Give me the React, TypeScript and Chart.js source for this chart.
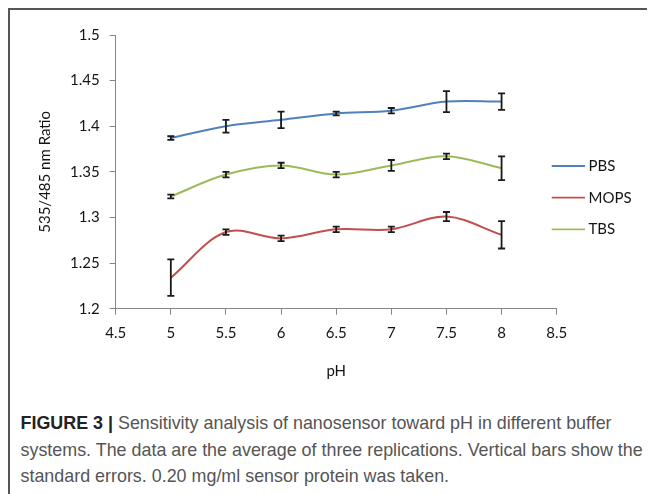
import React, { useEffect, useRef } from "react";
import { Chart, registerables } from "chart.js";
Chart.register(...registerables);

const phValues = [5, 5.5, 6, 6.5, 7, 7.5, 8];
const seriesNames = ["PBS", "MOPS", "TBS"];
const pbsValues = [1.387, 1.4, 1.407, 1.414, 1.417, 1.427, 1.427];
const pbsErrors = [0.002, 0.007, 0.009, 0.002, 0.003, 0.0115, 0.009];
const mopsValues = [1.234, 1.284, 1.277, 1.287, 1.287, 1.301, 1.281];
const mopsErrors = [0.02, 0.003, 0.003, 0.003, 0.003, 0.005, 0.015];
const tbsValues = [1.323, 1.347, 1.357, 1.347, 1.357, 1.367, 1.354];
const tbsErrors = [0.002, 0.003, 0.003, 0.003, 0.006, 0.003, 0.013];
const seriesColors = ["#4F81BD", "#C0504D", "#9BBB59"];

const xMin = 4.5;
const xMax = 8.5;
const xStep = 0.5;
const yMin = 1.2;
const yMax = 1.5;
const yStep = 0.05;

const tickFont = { family: "Lato", size: 15 };
const textColor = "#141414";
const axisColor = "#868686";

const errorBarPlugin = {
  id: "errorBars",
  afterDatasetsDraw(chart: any) {
    const { ctx } = chart;
    const xs = chart.scales.x;
    const ys = chart.scales.y;
    ctx.save();
    ctx.strokeStyle = "#1a1a1a";
    ctx.lineWidth = 1.8;
    chart.data.datasets.forEach((ds: any) => {
      ds.data.forEach((pt: any, j: number) => {
        const e = ds.errors[j];
        const px = xs.getPixelForValue(pt.x);
        const top = ys.getPixelForValue(pt.y + e);
        const bot = ys.getPixelForValue(pt.y - e);
        const cap = 3.5;
        ctx.beginPath();
        ctx.moveTo(px, top);
        ctx.lineTo(px, bot);
        ctx.moveTo(px - cap, top);
        ctx.lineTo(px + cap, top);
        ctx.moveTo(px - cap, bot);
        ctx.lineTo(px + cap, bot);
        ctx.stroke();
      });
    });
    ctx.restore();
  },
};

const legendPlugin = {
  id: "customLegend",
  afterDraw(chart: any) {
    const { ctx } = chart;
    const rows = [158, 189.7, 221.3];
    ctx.save();
    chart.data.datasets.forEach((ds: any, i: number) => {
      const y = rows[i];
      ctx.strokeStyle = ds.borderColor;
      ctx.lineWidth = 1.8;
      ctx.beginPath();
      ctx.moveTo(543.7, y);
      ctx.lineTo(577, y);
      ctx.stroke();
      ctx.fillStyle = textColor;
      ctx.font = `${tickFont.size}px ${tickFont.family}`;
      ctx.textBaseline = "middle";
      ctx.textAlign = "left";
      ctx.fillText(ds.label, 580.5, y);
    });
    ctx.restore();
  },
};

function fmt(v: number) {
  return String(Math.round(v * 100) / 100);
}

export default function App() {
  const ref = useRef<HTMLCanvasElement | null>(null);
  useEffect(() => {
    document.documentElement.style.overflow = "hidden";
    if (!ref.current) return;
    const values = [pbsValues, mopsValues, tbsValues];
    const errors = [pbsErrors, mopsErrors, tbsErrors];
    const chart = new Chart(ref.current, {
      type: "line",
      data: {
        datasets: seriesNames.map((name, i) => ({
          label: name,
          data: phValues.map((x, j) => ({ x, y: values[i][j] })),
          errors: errors[i],
          borderColor: seriesColors[i],
          backgroundColor: seriesColors[i],
          borderWidth: 2,
          pointRadius: 0,
          tension: 0.35,
          fill: false,
        })) as any,
      },
      options: {
        animation: false,
        responsive: false,
        layout: { padding: { left: 28, top: 27, right: 98.3, bottom: 10 } },
        plugins: { legend: { display: false }, tooltip: { enabled: false } },
        scales: {
          x: {
            type: "linear",
            min: xMin,
            max: xMax,
            ticks: { stepSize: xStep, padding: 9, color: textColor, font: tickFont, callback: (v: any) => fmt(v), maxRotation: 0 },
            grid: { display: true, drawOnChartArea: false, drawTicks: true, tickLength: 6, color: axisColor, lineWidth: 1 },
            border: { display: true, color: axisColor, width: 1 },
            title: { display: true, text: "pH", color: textColor, font: tickFont, padding: 0 },
            afterFit: (s: any) => {
              s.height = 71.3;
            },
          },
          y: {
            min: yMin,
            max: yMax,
            ticks: { stepSize: yStep, padding: 10, color: textColor, font: tickFont, callback: (v: any) => fmt(v) },
            grid: { display: true, drawOnChartArea: false, drawTicks: true, tickLength: 6, color: axisColor, lineWidth: 1 },
            border: { display: true, color: axisColor, width: 1 },
            title: { display: true, text: "535/485 nm Ratio", color: textColor, font: tickFont, padding: 0 },
            afterFit: (s: any) => {
              s.width = 79.7;
            },
          },
        },
      } as any,
      plugins: [errorBarPlugin, legendPlugin],
    });
    return () => chart.destroy();
  }, []);

  return (
    <div style={{ position: "relative", width: 647, height: 486, background: "#fff" }}>
      <div
        style={{
          position: "absolute",
          left: 0,
          top: 0,
          width: "100%",
          height: "100%",
          borderTop: "2px solid #555",
          borderLeft: "2px solid #555",
          boxSizing: "border-box",
        }}
      />
      <canvas ref={ref} width={647} height={382} style={{ position: "absolute", left: 0, top: 0 }} />
      <div
        style={{
          position: "absolute",
          left: 12.5,
          top: 402,
          fontFamily: '"Liberation Sans", Arial, sans-serif',
          fontSize: 17.9,
          lineHeight: "26.5px",
          color: "#555",
          whiteSpace: "nowrap",
        }}
      >
        <b style={{ color: "#222" }}>FIGURE 3 |</b> Sensitivity analysis of nanosensor toward pH in different buffer
        <br />
        systems. The data are the average of three replications. Vertical bars show the
        <br />
        standard errors. 0.20 mg/ml sensor protein was taken.
      </div>
    </div>
  );
}
